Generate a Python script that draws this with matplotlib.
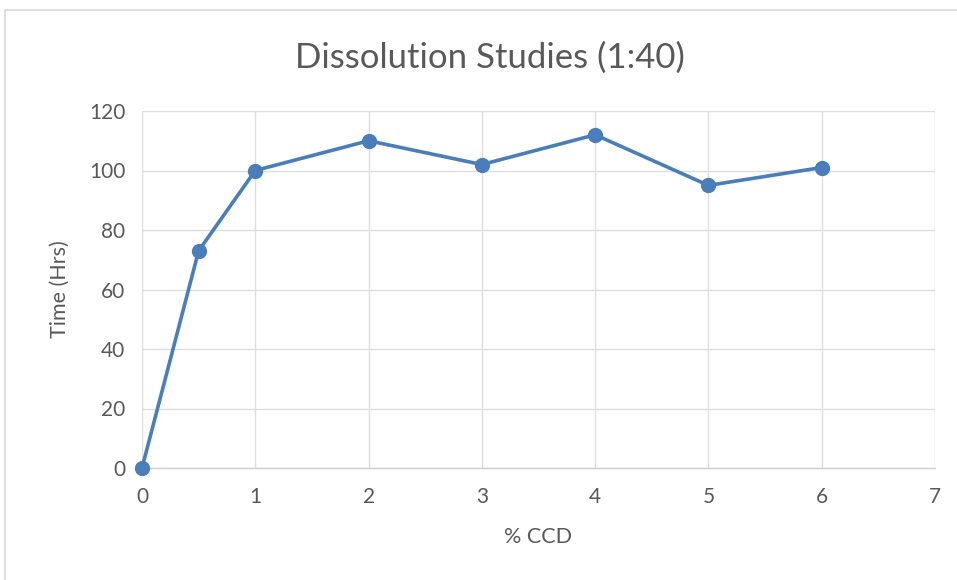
import matplotlib
matplotlib.use("Agg")
import matplotlib.pyplot as plt
from matplotlib.patches import Rectangle

plt.rcParams['font.family'] = ['Lato', 'DejaVu Sans']

x_vals = [0, 0.5, 1, 2, 3, 4, 5, 6]
y_vals = [0, 73, 100, 110, 102, 112, 95, 101]
x_ticks = [0, 1, 2, 3, 4, 5, 6, 7]
y_ticks = [0, 20, 40, 60, 80, 100, 120]

W, H = 957, 580
fig = plt.figure(figsize=(W / 100, H / 100), dpi=100)
fig.patch.set_facecolor('white')

# chart border
fig.add_artist(Rectangle((5 / W, -0.05), 1.2, (H - 10) / H + 0.05, transform=fig.transFigure,
                         fill=False, edgecolor='#d9d9d9', linewidth=1.2))

ax = fig.add_axes([142 / W, (H - 468) / H, (935 - 142) / W, (468 - 111) / H])
ax.plot(x_vals, y_vals, color='#4a7ebb', linewidth=2.6, marker='o', markersize=10,
        markerfacecolor='#4a7ebb', markeredgecolor='#4a7ebb', zorder=3, clip_on=False)

ax.set_xlim(0, 7)
ax.set_ylim(0, 120)
ax.set_xticks(x_ticks)
ax.set_yticks(y_ticks)
ax.grid(True, color='#dedede', linewidth=1)
ax.set_axisbelow(True)
for s in ['top', 'right', 'left']:
    ax.spines[s].set_visible(False)
ax.spines['bottom'].set_color('#d0d0d0')
ax.spines['bottom'].set_linewidth(1)
ax.tick_params(axis='both', length=0, labelsize=15, labelcolor='#595959')
ax.tick_params(axis='x', pad=14)
ax.tick_params(axis='y', pad=12)

ax.set_xlabel('% CCD', fontsize=15.5, color='#595959', labelpad=14)
ax.set_ylabel('Time (Hrs)', fontsize=15.5, color='#595959', labelpad=14)
fig.text(490 / W, 1 - 58 / H, 'Dissolution Studies (1:40)', ha='center', va='center',
         fontsize=25, color='#595959')

fig.savefig('out.png', dpi=100)
